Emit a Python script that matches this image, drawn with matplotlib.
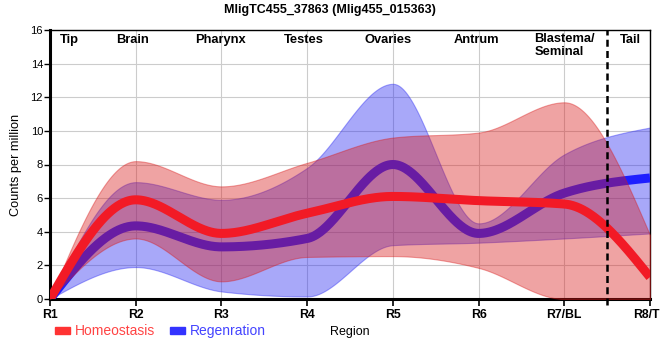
import numpy as np
import matplotlib
matplotlib.use("Agg")
import matplotlib.pyplot as plt
from matplotlib.patches import Rectangle

plt.rcParams['font.family'] = ['Liberation Sans', 'DejaVu Sans']

# ---------------- data ----------------
regions = ["R1", "R2", "R3", "R4", "R5", "R6", "R7/BL", "R8/TL"]
tissue_labels = ["Tip", "Brain", "Pharynx", "Testes", "Ovaries", "Antrum", "Blastema/\nSeminal", "Tail"]

homeo_mean = [0, 5.9, 3.9, 5.1, 6.1, 5.85, 5.65, 1.3]
homeo_upper = [0, 8.2, 6.7, 8.1, 9.6, 9.9, 11.7, 3.8]
homeo_lower = [0, 3.6, 1.05, 2.5, 2.55, 1.85, 0, 0]

regen_mean = [0, 4.35, 3.1, 3.6, 8.0, 3.9, 6.3, 7.2]
regen_upper = [0, 6.95, 5.9, 7.8, 12.8, 4.5, 8.6, 10.2]
regen_lower = [0, 1.9, 0.45, 0.15, 3.2, 3.35, 3.6, 3.9]

title = "MligTC455_37863 (Mlig455_015363)"


# ------------- monotone cubic (d3 curveMonotoneX style) -------------
def monotone(xs, ys, n=80):
    xs = np.asarray(xs, float)
    ys = np.asarray(ys, float)
    m = len(xs)
    h = np.diff(xs)
    s = np.diff(ys) / h
    t = np.zeros(m)
    sign = lambda v: -1.0 if v < 0 else 1.0
    for i in range(1, m - 1):
        p = (s[i - 1] * h[i] + s[i] * h[i - 1]) / (h[i - 1] + h[i])
        t[i] = (sign(s[i - 1]) + sign(s[i])) * min(abs(s[i - 1]), abs(s[i]), 0.5 * abs(p))
    t[0] = (3 * s[0] - t[1]) / 2
    t[-1] = (3 * s[-1] - t[-2]) / 2
    X, Y = [], []
    for i in range(m - 1):
        u = np.linspace(0, 1, n, endpoint=(i == m - 2))
        h00 = 2 * u**3 - 3 * u**2 + 1
        h10 = u**3 - 2 * u**2 + u
        h01 = -2 * u**3 + 3 * u**2
        h11 = u**3 - u**2
        X.append(xs[i] + u * h[i])
        Y.append(h00 * ys[i] + h10 * h[i] * t[i] + h01 * ys[i + 1] + h11 * h[i] * t[i + 1])
    return np.concatenate(X), np.concatenate(Y)


x = np.arange(len(regions))

fig = plt.figure(figsize=(6.6, 3.6), dpi=100)
ax = fig.add_axes([50 / 660, 1 - 299 / 360, 600 / 660, 269 / 360])

red_band = (0.85, 0.1, 0.1)
blue_band = (0.15, 0.15, 0.95)
red_line = '#f21a26'
blue_line = '#1e1eff'

# regeneration band + line
xs, yu = monotone(x, regen_upper)
_, yl = monotone(x, regen_lower)
ax.fill_between(xs, yl, yu, color=blue_band, alpha=0.4, lw=0.8, zorder=2)
_, ym = monotone(x, regen_mean)
ax.plot(xs, ym, color=blue_line, lw=6.5, solid_capstyle='butt', zorder=3)

# homeostasis band + line
_, yu = monotone(x, homeo_upper)
_, yl = monotone(x, homeo_lower)
ax.fill_between(xs, yl, yu, color=red_band, alpha=0.4, lw=0.8, zorder=4)
_, ym = monotone(x, homeo_mean)
ax.plot(xs, ym, color=red_line, lw=6.5, solid_capstyle='butt', zorder=5)

ax.set_xlim(0, len(regions) - 1)
ax.set_ylim(0, 16)
ax.set_xticks(x)
ax.set_xticklabels(regions, fontsize=8.8, fontweight='bold')
ax.set_yticks(np.arange(0, 17, 2))
ax.tick_params(axis='y', labelsize=8, length=4, width=1, pad=1)
ax.tick_params(axis='x', length=5, width=1.2, pad=2)
ax.grid(True, color='#cccccc', lw=0.8, zorder=0)
ax.set_axisbelow(True)

for side in ['left', 'bottom']:
    ax.spines[side].set_linewidth(2.2)
for side in ['top', 'right']:
    ax.spines[side].set_linewidth(1.0)

# dashed separator between R7 and R8
ax.axvline(len(regions) - 1.5, ymin=-0.022, ymax=1, color='black', lw=1.8,
           linestyle=(0, (2.8, 1.7)), clip_on=False, zorder=6)

# tissue labels
label_x = [0.23, 0.96, 1.99, 2.96, 3.94, 4.98, 5.65, 6.77]
for i, (lab, lx) in enumerate(zip(tissue_labels, label_x)):
    ha = 'left' if '\n' in lab else 'center'
    ax.text(lx, 15.4, lab, ha=ha, va='top' if '\n' in lab else 'center',
            fontsize=9.3, fontweight='bold', linespacing=1.15, zorder=7)
# fix multi-line alignment
for t in ax.texts:
    if '\n' in t.get_text():
        t.set_y(15.4 + 0.42)

ax.set_ylabel("Counts per million", fontsize=9.2, labelpad=6)

fig.text(330 / 660, 1 - 10 / 360, title, ha='center', va='center',
         fontsize=9, fontweight='bold')

# legend
fig.patches.append(Rectangle((55 / 660, 1 - 334 / 360), 15 / 660, 7 / 360,
                             transform=fig.transFigure, color='#ff3333', figure=fig))
fig.text(75 / 660, 1 - 331 / 360, "Homeostasis", color='#ff4444', fontsize=10,
         ha='left', va='center')
fig.patches.append(Rectangle((170 / 660, 1 - 334 / 360), 15 / 660, 7 / 360,
                             transform=fig.transFigure, color='#3333ff', figure=fig))
fig.text(190 / 660, 1 - 331 / 360, "Regenration", color='#4444ff', fontsize=10,
         ha='left', va='center')
fig.text(330 / 660, 1 - 332 / 360, "Region", color='black', fontsize=9,
         ha='left', va='center')

fig.savefig("out.png", dpi=100)
